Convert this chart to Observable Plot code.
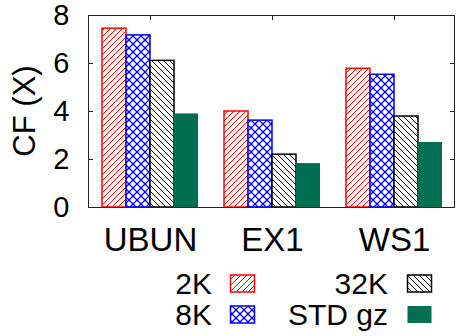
<!DOCTYPE html>
<html><head><meta charset="utf-8">
<script src="https://cdn.jsdelivr.net/npm/d3@7"></script>
<script src="https://cdn.jsdelivr.net/npm/@observablehq/plot@0.6"></script>
<style>
body{margin:0;background:#fff;font-family:"Liberation Sans",Arial,sans-serif;}
#chart{width:456px;}
#chart svg{display:block;}
</style></head><body><div id="chart"></div>
<script>
const categories = ["UBUN", "EX1", "WS1"];
const seriesNames = ["2K", "8K", "32K", "STD gz"];
const v2K  = [7.45, 4.00, 5.78];
const v8K  = [7.17, 3.62, 5.53];
const v32K = [6.11, 2.20, 3.79];
const vSTD = [3.90, 1.83, 2.71];
const yTicks = [0, 2, 4, 6, 8];
const yLabel = "CF (X)";
const seriesStroke = ["#ff0000", "#0000ff", "#000000", "none"];
const seriesFill = ["url(#p2k)", "url(#p8k)", "url(#p32k)", "#016f52"];

const seriesValues = [v2K, v8K, v32K, vSTD];
const data = [];
categories.forEach((c, i) => seriesNames.forEach((s, j) => data.push({category: c, series: s, value: seriesValues[j][i]})));

const font = "Liberation Sans, Arial, sans-serif";
const plot = Plot.plot({
  width: 456, height: 258,
  marginTop: 15, marginLeft: 88, marginRight: 1, marginBottom: 51,
  style: {fontFamily: font, fontSize: "30px", color: "#000", background: "#fff", overflow: "visible"},
  fx: {domain: categories, padding: 0, axis: null},
  x: {domain: seriesNames, paddingInner: 0, paddingOuter: 0.5, axis: null},
  y: {domain: [0, 8], axis: null},
  marks: [
    ...seriesNames.map((s, j) => Plot.barY(data.filter(d => d.series === s), {
      fx: "category", x: "series", y: "value",
      fill: seriesFill[j], stroke: seriesStroke[j], strokeWidth: 1.5
    })),
    Plot.axisFx({anchor: "bottom", tickSize: 0, tickPadding: 20, fontSize: 33, label: null}),
    Plot.axisY({ticks: yTicks, tickSize: 0, tickPadding: 20, fontSize: 29, label: null, tickFormat: d => String(d)})
  ]
});

const svg = d3.select(plot);
const defs = svg.insert("defs", ":first-child");
function pattern(id, size, d, color, w) {
  const p = defs.append("pattern").attr("id", id).attr("patternUnits", "userSpaceOnUse")
    .attr("width", size).attr("height", size);
  p.append("rect").attr("width", size).attr("height", size).attr("fill", "#fff");
  p.append("path").attr("d", d).attr("stroke", color).attr("stroke-width", w).attr("fill", "none");
}
pattern("p2k", 6, "M0,6L6,0M-1,1L1,-1M5,7L7,5", "#ff0000", 1);
pattern("p8k", 8, "M0,0L8,8M8,0L0,8", "#0000ff", 1.3);
pattern("p32k", 6, "M0,0L6,6M-1,5L1,7M5,-1L7,1", "#000000", 1);

const ys = plot.scale("y"), fxs = plot.scale("fx");
const [x0, x1] = fxs.range;
const [yb, yt] = ys.range;
const g = svg.append("g").attr("stroke", "#222").attr("stroke-width", 1).attr("fill", "none");
g.append("rect").attr("x", x0 + 0.5).attr("y", yt + 0.5).attr("width", x1 - x0 - 1).attr("height", yb - yt);
yTicks.forEach(t => {
  const y = Math.round(ys.apply(t)) + 0.5;
  g.append("line").attr("x1", x0).attr("x2", x0 + 5).attr("y1", y).attr("y2", y);
  g.append("line").attr("x1", x1 - 5).attr("x2", x1).attr("y1", y).attr("y2", y);
});
categories.forEach(c => {
  const x = Math.round(fxs.apply(c) + fxs.bandwidth / 2) + 0.5;
  g.append("line").attr("x1", x).attr("x2", x).attr("y1", yt).attr("y2", yt + 5);
});
svg.append("text").attr("transform", `translate(24,${ys.apply(4)}) rotate(-90)`)
  .attr("text-anchor", "middle").attr("dy", "0.35em")
  .attr("font-family", font).attr("font-size", 31).attr("fill", "#000").text(yLabel);

document.getElementById("chart").appendChild(plot);

// Legend below the plot
const leg = d3.select("#chart").append("svg").attr("width", 456).attr("height", 78)
  .attr("font-family", font).attr("font-size", 30);
const legPos = [
  {tx: 212, sx: 230, cy: 25.5},
  {tx: 212, sx: 230, cy: 56.5},
  {tx: 388, sx: 407, cy: 25.5},
  {tx: 388, sx: 407, cy: 56.5}
];
seriesNames.forEach((s, j) => {
  const p = legPos[j];
  leg.append("text").attr("x", p.tx).attr("y", p.cy).attr("dy", "0.35em")
    .attr("text-anchor", "end").attr("fill", "#000").text(s);
  leg.append("rect").attr("x", p.sx + 0.5).attr("y", p.cy - 8.5).attr("width", 24).attr("height", 17)
    .attr("fill", seriesFill[j]).attr("stroke", seriesStroke[j]).attr("stroke-width", 1.5);
});
</script></body></html>
